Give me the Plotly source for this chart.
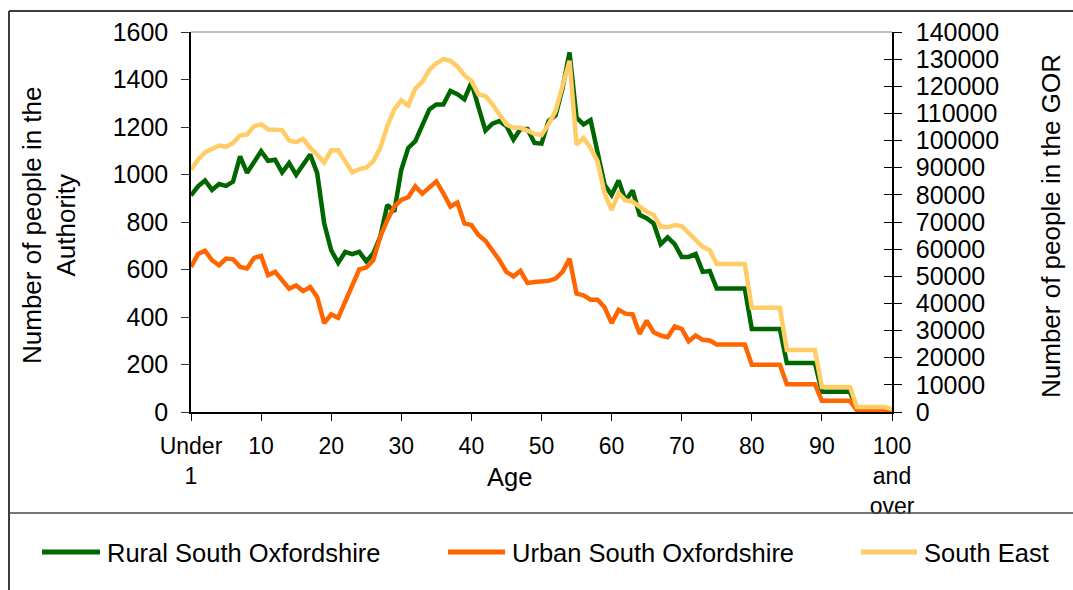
import plotly.graph_objects as go

ages = list(range(101))
x_tick_vals = [0, 10, 20, 30, 40, 50, 60, 70, 80, 90, 100]
x_tick_text = ["Under<br>1", "10", "20", "30", "40", "50", "60", "70", "80", "90", "100<br>and<br>over"]
left_tick_vals = [0, 200, 400, 600, 800, 1000, 1200, 1400, 1600]
right_tick_vals = [0, 10000, 20000, 30000, 40000, 50000, 60000, 70000,
                   80000, 90000, 100000, 110000, 120000, 130000, 140000]
right_tick_text = ["0", "10000", "20000", "30000", "40000", "50000", "60000", "70000",
                   "80000", "90000", "100000", "110000", "120000", "130000", "140000"]

rural = [912, 950, 975, 935, 960, 952, 970, 1076, 1007, 1055,
         1098, 1058, 1062, 1009, 1048, 999, 1041, 1084, 1006, 794,
         681, 628, 674, 665, 674, 635, 667, 738, 872, 844,
         1020, 1112, 1140, 1204, 1274, 1295, 1295, 1352, 1338, 1317,
         1387, 1285, 1185, 1214, 1225, 1204, 1147, 1192, 1192, 1133,
         1130, 1225, 1249, 1362, 1514, 1239, 1211, 1229, 1091, 957,
         914, 975, 890, 933, 830, 816, 794, 707, 735, 707,
         653, 653, 665, 590, 594, 520, 520, 520, 520, 520,
         350, 350, 350, 350, 350, 206, 206, 206, 206, 206,
         85, 85, 85, 85, 85, 12, 12, 12, 12, 12,
         5]

urban = [611, 665, 679, 639, 618, 646, 643, 611, 604, 649,
         657, 576, 590, 555, 519, 533, 509, 526, 484, 374,
         411, 397, 467, 538, 600, 608, 639, 738, 808, 865,
         893, 905, 950, 919, 947, 971, 921, 865, 882, 794,
         787, 745, 721, 681, 639, 590, 571, 594, 543, 547,
         550, 552, 562, 590, 646, 498, 491, 473, 473, 441,
         374, 430, 414, 411, 329, 385, 336, 322, 315, 360,
         350, 298, 322, 304, 301, 284, 284, 284, 284, 284,
         199, 199, 199, 199, 199, 117, 117, 117, 117, 117,
         47, 47, 47, 47, 47, 7, 7, 7, 7, 7,
         4]

south_east = [89250, 92950, 95650, 96900, 98150, 97700, 99150, 101850, 102250, 105300,
              105950, 104100, 103850, 103850, 100000, 99400, 100650, 97300, 94800, 91950,
              96400, 96400, 92350, 88250, 89500, 90000, 92350, 97300, 105300, 111500,
              114800, 112950, 119150, 121600, 126000, 128500, 130000, 129400, 127300, 124100,
              122000, 117050, 116400, 113350, 109600, 105950, 104700, 104700, 103700, 102450,
              102000, 105950, 110850, 120100, 129400, 98500, 101000, 97300, 92350, 80600,
              74450, 80600, 77900, 77500, 75650, 73800, 72600, 68250, 68050, 68900,
              68500, 65800, 63100, 60850, 59600, 54500, 54500, 54500, 54500, 54500,
              38400, 38400, 38400, 38400, 38400, 22850, 22850, 22850, 22850, 22850,
              9250, 9250, 9250, 9250, 9250, 1850, 1850, 1850, 1850, 1850,
              1000]

series_names = ["Rural South Oxfordshire", "Urban South Oxfordshire", "South East"]
colors = ["#006600", "#FF6600", "#FFCC66"]

FONT = "Liberation Sans, Arial, sans-serif"
W, H = 1073, 590
ML, MR, MT, MB = 191, 181, 32, 178
PW, PH = W - ML - MR, H - MT - MB


def px(xp):
    return (xp - ML) / PW


def py(yp):
    return (H - MB - yp) / PH


fig = go.Figure()
fig.add_trace(go.Scatter(x=ages, y=rural, mode="lines", name=series_names[0],
                         line=dict(color=colors[0], width=4.5), showlegend=False))
fig.add_trace(go.Scatter(x=ages, y=urban, mode="lines", name=series_names[1],
                         line=dict(color=colors[1], width=4.5), showlegend=False))
fig.add_trace(go.Scatter(x=ages, y=south_east, mode="lines", name=series_names[2],
                         line=dict(color=colors[2], width=4.5), yaxis="y2", showlegend=False))
# invisible trace so the inner tick axis (y3) is rendered
fig.add_trace(go.Scatter(x=[None], y=[None], yaxis="y3", showlegend=False, hoverinfo="skip"))

fig.update_layout(
    width=W, height=H,
    margin=dict(l=ML, r=MR, t=MT, b=MB, pad=0),
    paper_bgcolor="white", plot_bgcolor="white",
    font=dict(family=FONT, color="black"),
    xaxis=dict(range=[0, 100], tickvals=x_tick_vals, ticktext=x_tick_text,
               showline=True, linecolor="black", linewidth=1.5,
               ticks="outside", ticklen=7, tickcolor="black", tickwidth=1.2,
               tickfont=dict(size=23, family=FONT), ticklabelstandoff=6,
               showgrid=False, zeroline=False, fixedrange=True),
    yaxis=dict(range=[0, 1600], tickvals=left_tick_vals,
               showline=True, linecolor="black", linewidth=1.5,
               ticks="outside", ticklen=8, tickcolor="#333333", tickwidth=1.2,
               tickfont=dict(size=25, family=FONT), ticklabelstandoff=8,
               showgrid=False, zeroline=False, fixedrange=True),
    yaxis2=dict(range=[0, 140000], tickvals=right_tick_vals, ticktext=right_tick_text,
                overlaying="y", side="right", anchor="x",
                showline=True, linecolor="black", linewidth=1.5,
                ticks="outside", ticklen=8, tickcolor="black", tickwidth=1.2,
                tickfont=dict(size=25, family=FONT), ticklabelstandoff=9,
                showgrid=False, zeroline=False, fixedrange=True),
    yaxis3=dict(range=[0, 140000], tickvals=right_tick_vals,
                overlaying="y", side="right", anchor="x",
                showline=False, ticks="inside", ticklen=8, tickcolor="black", tickwidth=1.2,
                showticklabels=False, showgrid=False, zeroline=False, fixedrange=True),
)

shapes = []
# plot area top border
shapes.append(dict(type="line", xref="paper", yref="paper", x0=0, x1=1, y0=1, y1=1,
                   line=dict(color="#808080", width=1)))
# outer chart frame
frame = dict(color="#3c3c3c", width=2)
shapes.append(dict(type="line", xref="paper", yref="paper", x0=px(9), x1=px(1080),
                   y0=py(11), y1=py(11), line=frame))
shapes.append(dict(type="line", xref="paper", yref="paper", x0=px(9), x1=px(9),
                   y0=py(11), y1=py(600), line=frame))
shapes.append(dict(type="line", xref="paper", yref="paper", x0=px(9), x1=px(1080),
                   y0=py(513), y1=py(513), line=dict(color="#4a4a4a", width=1.5)))

# legend
legend_items = [(42, 100, 105), (448, 505, 510), (861, 917, 922)]
ly = 552
annotations = []
for (x0, x1, tx), name, col in zip(legend_items, series_names, colors):
    shapes.append(dict(type="line", xref="paper", yref="paper", x0=px(x0), x1=px(x1),
                       y0=py(ly), y1=py(ly), line=dict(color=col, width=5)))
    annotations.append(dict(xref="paper", yref="paper", x=px(tx), y=py(ly + 1),
                            xanchor="left", yanchor="middle", text=name, showarrow=False,
                            font=dict(size=25.5, family=FONT, color="black")))

# axis titles
annotations.append(dict(xref="paper", yref="paper", x=px(509), y=py(477),
                        xanchor="center", yanchor="middle", text="Age", showarrow=False,
                        font=dict(size=25.5, family=FONT, color="black")))
annotations.append(dict(xref="paper", yref="paper", x=px(49), y=py(225),
                        xanchor="center", yanchor="middle", textangle=-90,
                        text="Number of people in the<br>Authority", showarrow=False,
                        font=dict(size=26, family=FONT, color="black")))
annotations.append(dict(xref="paper", yref="paper", x=px(1051), y=py(226),
                        xanchor="center", yanchor="middle", textangle=-90,
                        text="Number of people in the GOR", showarrow=False,
                        font=dict(size=26, family=FONT, color="black")))

fig.update_layout(shapes=shapes, annotations=annotations, showlegend=False)

fig.write_html("out.html", config={"displayModeBar": False},
               post_script="document.body.style.margin='0';")
